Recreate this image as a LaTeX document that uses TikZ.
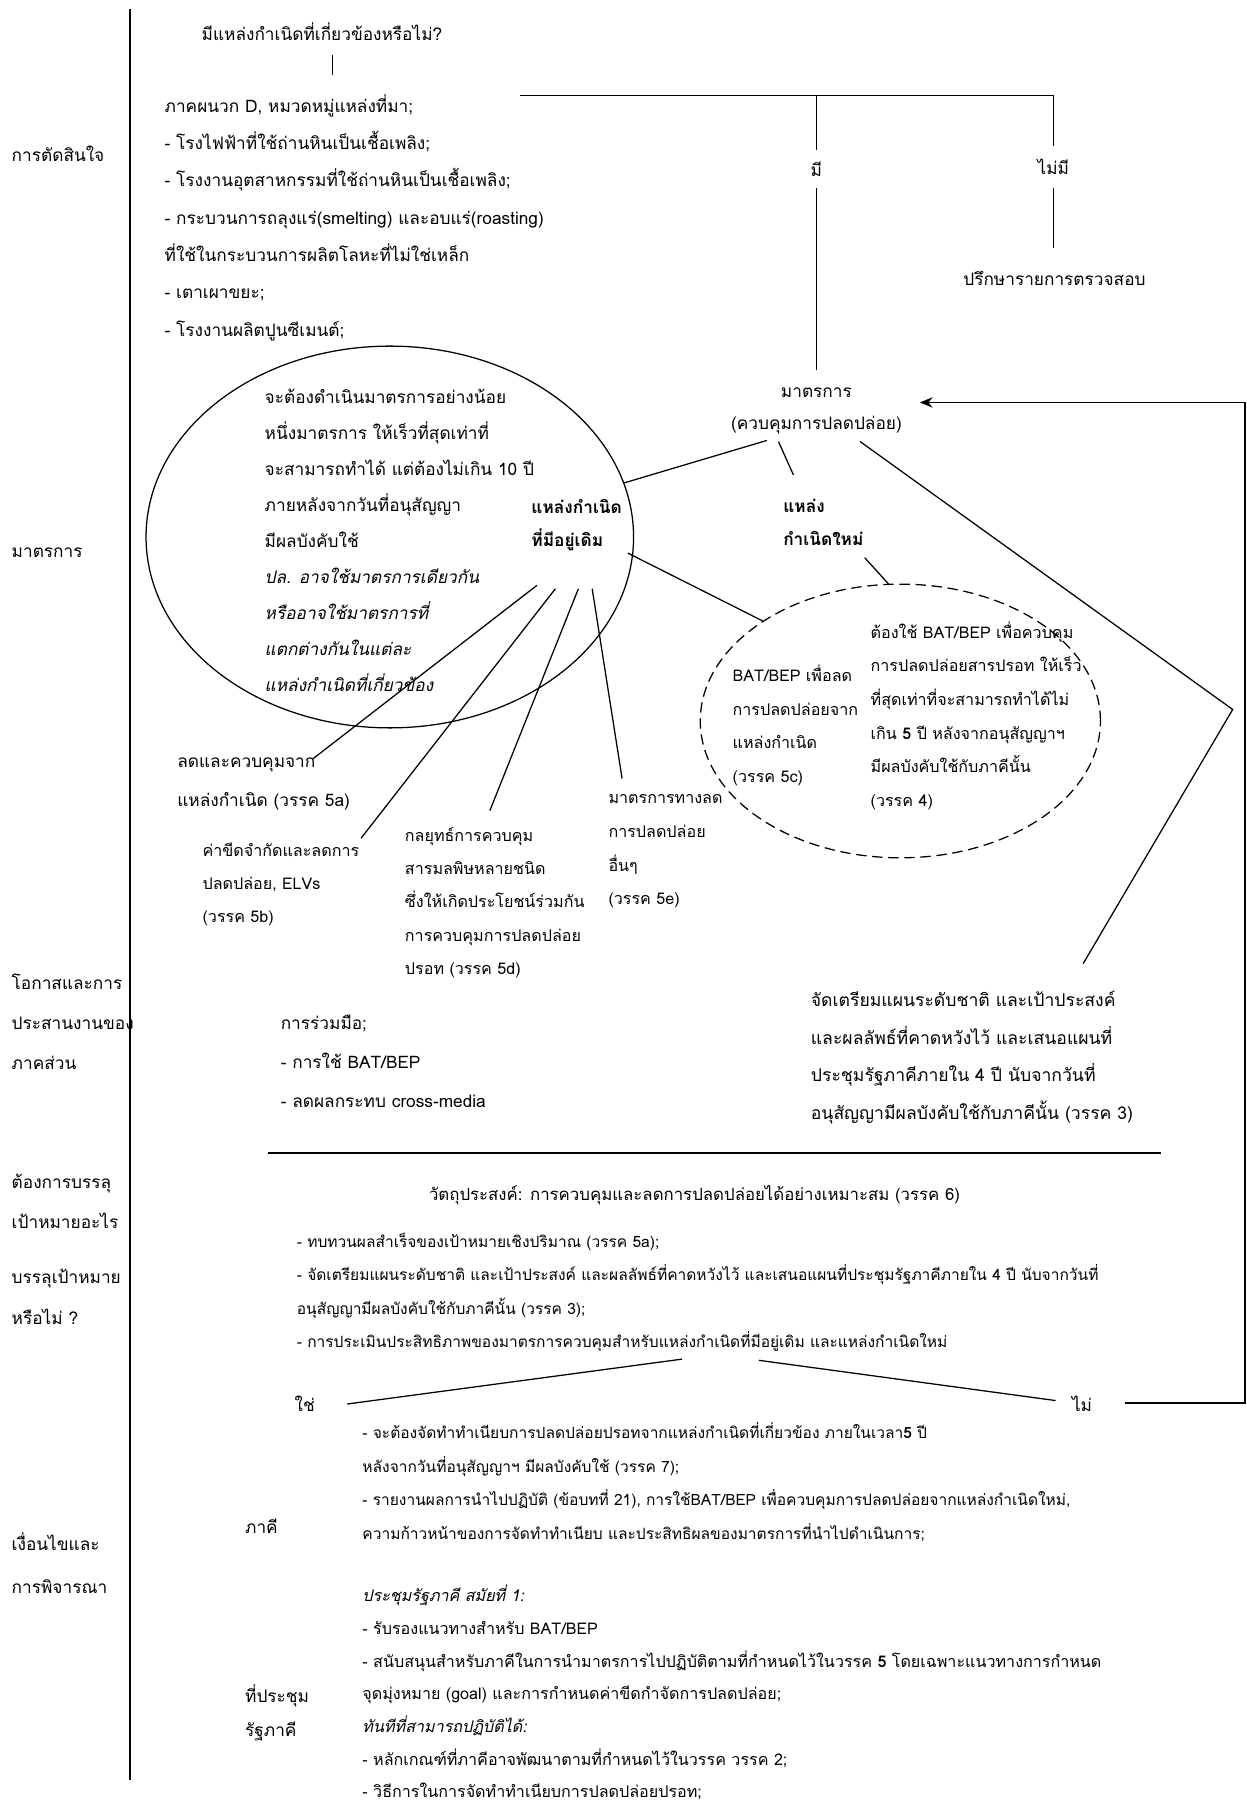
\documentclass[tikz,border=0pt]{standalone}
\usepackage{fontspec}
\setmainfont{Loma}[Script=Thai]
\usetikzlibrary{shapes.geometric,arrows.meta}
\newcommand\fz[2]{\fontsize{#1}{#2}\selectfont}
\begin{document}
\begin{tikzpicture}[x=1pt,y=-1pt,
  tb/.style={anchor=north west, inner sep=0pt, align=left},
  lb/.style={anchor=base west, inner sep=0pt, font=\fz{15}{18}},
  ln/.style={line width=1.1pt},
  bold line/.style={line width=1.5pt}]
\useasboundingbox (0,0) rectangle (1084,1568);
\fill[white] (0,0) rectangle (1084,1568);

% ---------- left column labels ----------
\node[lb] (L1) at (10,140.25) {การตัดสินใจ};
\node[lb] (L2) at (10,485.25) {มาตรการ};
\node[tb,font=\fz{15}{35}] (L3) at (10,835.75) {\strut โอกาสและการ\\ประสานงานของ\\ภาคส่วน};
\node[tb,font=\fz{15}{35}] (L4) at (10,1008.75) {\strut ต้องการบรรลุ\\เป้าหมายอะไร};
\node[tb,font=\fz{15}{35}] (L5) at (10,1091.75) {\strut บรรลุเป้าหมาย\\หรือไม่ ?};
\node[tb,font=\fz{15}{37}] (L6) at (10,1322.35) {\strut เงื่อนไขและ\\การพิจารณา};
\coordinate (vt) at (113,8);
\coordinate (vb) at (113,1548);
\draw[bold line] (vt) -- (vb);

% ---------- decision ----------
\node[anchor=base, inner sep=0pt, font=\fz{15}{18}] (q) at (280,35.25) {มีแหล่งกำเนิดที่เกี่ยวข้องหรือไม่?};
\coordinate (tk1) at (289,48);
\coordinate (tk2) at (289,65);
\draw[ln] (tk1) -- (tk2);
\node[tb,font=\fz{15}{32.5}] (list) at (143,74.5) {\strut ภาคผนวก D, หมวดหมู่แหล่งที่มา;\\
- โรงไฟฟ้าที่ใช้ถ่านหินเป็นเชื้อเพลิง;\\
- โรงงานอุตสาหกรรมที่ใช้ถ่านหินเป็นเชื้อเพลิง;\\
- กระบวนการถลุงแร่(smelting) และอบแร่(roasting)\\
ที่ใช้ในกระบวนการผลิตโลหะที่ไม่ใช่เหล็ก\\
- เตาเผาขยะ;\\
- โรงงานผลิตปูนซีเมนต์;};
\coordinate (brL) at (452,83);
\coordinate (brM) at (710,83);
\coordinate (brR) at (916,83);
\draw[ln] (brL) -- (brR);
\node[inner sep=0pt, minimum height=33, font=\fz{15}{18}] (mi) at (710,147) {มี};
\node[inner sep=0pt, minimum height=36, font=\fz{15}{18}] (nm) at (916,145) {ไม่มี};
\node[inner sep=0pt, minimum height=52, font=\fz{15}{18}] (chk) at (917,242) {ปรึกษารายการตรวจสอบ};
\draw[ln] (brM) -- (mi.north);
\draw[ln] (brR) -- (nm.north);
\draw[ln] (nm.south) -- (nm.south |- chk.north);

% ---------- measures ----------
\node[anchor=north, align=center, inner ysep=4pt, inner xsep=0pt, font=\fz{15}{28}] (mt) at (710,321.6) {\strut มาตรการ\\(ควบคุมการปลดปล่อย)};
\draw[ln] (mi.south) -- (mt.north);

\node[draw, ellipse, line width=1.1pt, minimum width=424, minimum height=332, inner sep=0pt] (ell) at (339,467) {};
\node[tb,font=\fz{15}{31.4}] (elltxt) at (230,328.3) {\strut จะต้องดำเนินมาตรการอย่างน้อย\\
หนึ่งมาตรการ ให้เร็วที่สุดเท่าที่\\
จะสามารถทำได้ แต่ต้องไม่เกิน 10 ปี\\
ภายหลังจากวันที่อนุสัญญา\\
มีผลบังคับใช้\\
\textit{ปล. อาจใช้มาตรการเดียวกัน}\\
\textit{หรืออาจใช้มาตรการที่}\\
\textit{แตกต่างกันในแต่ละ}\\
\textit{แหล่งกำเนิดที่เกี่ยวข้อง}};
\node[tb,font=\fz{15}{29}\bfseries] (old) at (462,426) {\strut แหล่งกำเนิด\\ที่มีอยู่เดิม};
\node[tb,font=\fz{15}{29}\bfseries] (new) at (681,425) {\strut แหล่ง\\กำเนิดใหม่};

\node[draw, ellipse, line width=1.1pt, dash pattern=on 9pt off 5pt, minimum width=348, minimum height=238, inner sep=0pt] (dsh) at (783,627) {};
\node[tb,font=\fz{14}{29}] (dl) at (637,572.6) {\strut BAT/BEP เพื่อลด\\การปลดปล่อยจาก\\แหล่งกำเนิด\\(วรรค 5c)};
\node[tb,font=\fz{14}{29.2}] (dr) at (757,534.5) {\strut ต้องใช้ BAT/BEP เพื่อควบคุม\\การปลดปล่อยสารปรอท ให้เร็ว\\ที่สุดเท่าที่จะสามารถทำได้ไม่\\เกิน \textbf{5} ปี หลังจากอนุสัญญาฯ\\มีผลบังคับใช้กับภาคีนั้น\\(วรรค 4)};

\coordinate (mtA) at (667,383);
\coordinate (mtB) at (677,384);
\coordinate (mtC) at (748,384);
\coordinate (newT) at (690,413);
\coordinate (newB) at (752,485);
\coordinate (oldR) at (546,481);
\coordinate (apex) at (1072,617);
\coordinate (planT) at (942,838);
\draw[ln] (mtA) -- (ell.13);
\draw[ln] (mtB) -- (newT);
\draw[ln] (newB) -- (dsh.95);
\draw[ln] (oldR) -- (dsh.144);
\draw[ln] (mtC) -- (apex) -- (planT);

% measure items
\node[tb,font=\fz{15}{34}] (m5a) at (154,643.75) {\strut ลดและควบคุมจาก\\แหล่งกำเนิด (วรรค 5a)};
\node[tb,font=\fz{14}{28.5}] (m5b) at (176,724.95) {\strut ค่าขีดจำกัดและลดการ\\ปลดปล่อย, ELVs\\(วรรค 5b)};
\node[tb,font=\fz{14}{28.75}] (m5d) at (352,711.8) {\strut กลยุทธ์การควบคุม\\สารมลพิษหลายชนิด\\ซึ่งให้เกิดประโยชน์ร่วมกัน\\การควบคุมการปลดปล่อย\\ปรอท (วรรค 5d)};
\node[tb,font=\fz{14}{29.3}] (m5e) at (529,678.4) {\strut มาตรการทางลด\\การปลดปล่อย\\อื่นๆ\\(วรรค 5e)};
\coordinate (o1) at (467,509);
\coordinate (o2) at (483,512);
\coordinate (o3) at (503,512);
\coordinate (o4) at (515,512);
\coordinate (e1) at (272,660);
\coordinate (e2) at (314,729);
\coordinate (e3) at (426,705);
\coordinate (e4) at (541,677);
\draw[ln] (o1) -- (e1);
\draw[ln] (o2) -- (e2);
\draw[ln] (o3) -- (e3);
\draw[ln] (o4) -- (e4);

% ---------- cooperation ----------
\node[tb,font=\fz{15}{34}] (coop) at (244,871.45) {\strut การร่วมมือ;\\- การใช้ BAT/BEP\\- ลดผลกระทบ cross-media};
\node[tb,font=\fz{15.3}{32.7}] (plan) at (705,852.4) {\strut จัดเตรียมแผนระดับชาติ และเป้าประสงค์\\และผลลัพธ์ที่คาดหวังไว้ และเสนอแผนที่\\ประชุมรัฐภาคีภายใน 4 ปี นับจากวันที่\\อนุสัญญามีผลบังคับใช้กับภาคีนั้น (วรรค 3)};

\coordinate (dvL) at (233,1003);
\coordinate (dvR) at (1010,1003);
\draw[bold line] (dvL) -- (dvR);

% ---------- objectives ----------
\node[anchor=base, inner sep=0pt, font=\fz{14.6}{18}] (obj) at (604,1044) {วัตถุประสงค์: การควบคุมและลดการปลดปล่อยได้อย่างเหมาะสม (วรรค 6)};
\node[tb,font=\fz{13.5}{29}] (b1) at (258,1064.4) {\strut - ทบทวนผลสำเร็จของเป้าหมายเชิงปริมาณ (วรรค 5a);\\
- จัดเตรียมแผนระดับชาติ และเป้าประสงค์ และผลลัพธ์ที่คาดหวังไว้ และเสนอแผนที่ประชุมรัฐภาคีภายใน 4 ปี นับจากวันที่\\
อนุสัญญามีผลบังคับใช้กับภาคีนั้น (วรรค 3);\\
- การประเมินประสิทธิภาพของมาตรการควบคุมสำหรับแหล่งกำเนิดที่มีอยู่เดิม และแหล่งกำเนิดใหม่};

\node[anchor=base, inner sep=0pt, font=\fz{15}{18}] (yes) at (265,1227.25) {ใช่};
\node[anchor=base, inner sep=0pt, font=\fz{15}{18}] (no) at (941,1227.25) {ไม่};
\coordinate (yA) at (302,1221);
\coordinate (yB) at (593,1182);
\coordinate (nA) at (660,1183);
\coordinate (nB) at (918,1218);
\draw[ln] (yA) -- (yB);
\draw[ln] (nA) -- (nB);
\coordinate (fbS) at (978,1220);
\coordinate (fbR) at (1083,1220);
\coordinate (fbT) at (1083,350);
\coordinate (fbE) at (800,350);
\draw[bold line, -{Stealth[length=11pt,width=9pt]}] (fbS) -- (fbR) -- (fbT) -- (fbE);

\node[tb,font=\fz{13.5}{29.3}] (b2) at (315,1230.2) {\strut - จะต้องจัดทำทำเนียบการปลดปล่อยปรอทจากแหล่งกำเนิดที่เกี่ยวข้อง ภายในเวลา\textbf{5} ปี\\
หลังจากวันที่อนุสัญญาฯ มีผลบังคับใช้ (วรรค 7);\\
- รายงานผลการนำไปปฏิบัติ (ข้อบทที่ 21), การใช้BAT/BEP เพื่อควบคุมการปลดปล่อยจากแหล่งกำเนิดใหม่,\\
ความก้าวหน้าของการจัดทำทำเนียบ และประสิทธิผลของมาตรการที่นำไปดำเนินการ;};
\node[anchor=base west, inner sep=0pt, font=\fz{15}{18}] (party) at (213,1333.25) {ภาคี};

\node[tb,font=\fz{14}{28.4}] (b3) at (315,1373) {\strut \textit{ประชุมรัฐภาคี สมัยที่ 1:}\\
- รับรองแนวทางสำหรับ BAT/BEP\\
- สนับสนุนสำหรับภาคีในการนำมาตรการไปปฏิบัติตามที่กำหนดไว้ในวรรค \textbf{5} โดยเฉพาะแนวทางการกำหนด\\
จุดมุ่งหมาย (goal) และการกำหนดค่าขีดกำจัดการปลดปล่อย;\\
\textit{ทันทีที่สามารถปฏิบัติได้:}\\
- หลักเกณฑ์ที่ภาคีอาจพัฒนาตามที่กำหนดไว้ในวรรค วรรค 2;\\
- วิธีการในการจัดทำทำเนียบการปลดปล่อยปรอท;};
\node[tb,font=\fz{15}{29}] (cop) at (213,1460.25) {\strut ที่ประชุม\\รัฐภาคี};
\end{tikzpicture}
\end{document}
